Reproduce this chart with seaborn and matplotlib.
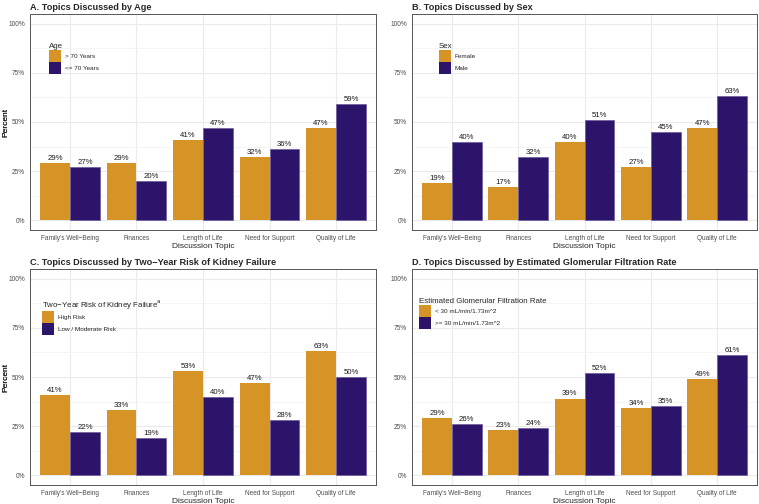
import matplotlib
matplotlib.use("Agg")
import matplotlib.pyplot as plt
import seaborn as sns
import pandas as pd
from matplotlib.ticker import FixedLocator

sns.set_style("white")
plt.rcParams['font.family'] = ['Liberation Sans', 'DejaVu Sans']

topics = ["Family's Well\u2212Being", "Finances", "Length of Life", "Need for Support", "Quality of Life"]

age_groups = ["> 70 Years", "<= 70 Years"]
age_over70 = [29, 29, 41, 32, 47]
age_under70 = [27, 20, 47, 36, 59]

sex_groups = ["Female", "Male"]
sex_female = [19, 17, 40, 27, 47]
sex_male = [40, 32, 51, 45, 63]

risk_groups = ["High Risk", "Low / Moderate Risk"]
risk_high = [41, 33, 53, 47, 63]
risk_low = [22, 19, 40, 28, 50]

egfr_groups = ["< 30 mL/min/1.73m^2", ">= 30 mL/min/1.73m^2"]
egfr_low = [29, 23, 39, 34, 49]
egfr_high = [26, 24, 52, 35, 61]

ORANGE = "#D69426"
PURPLE = "#2D146B"

W, H = 759, 504
fig = plt.figure(figsize=(W / 100, H / 100), dpi=100)

panels = [
    ("A. Topics Discussed by Age", "Age", age_groups, age_over70, age_under70, (30, 376, 14, 230), 19),
    ("B. Topics Discussed by Sex", "Sex", sex_groups, sex_female, sex_male, (412, 757, 14, 230), 27),
    ("C. Topics Discussed by Two\u2212Year Risk of Kidney Failure",
     "Two\u2212Year Risk of Kidney Failure$^{\\mathrm{a}}$", risk_groups, risk_high, risk_low,
     (30, 376, 269, 485), 12),
    ("D. Topics Discussed by Estimated Glomerular Filtration Rate", "Estimated Glomerular Filtration Rate",
     egfr_groups, egfr_low, egfr_high, (412, 757, 269, 485), 7),
]

for title, ltitle, groups, v1, v2, (l, r, t, b), loff in panels:
    ax = fig.add_axes([l / W, 1 - b / H, (r - l) / W, (b - t) / H])
    df = pd.DataFrame({
        "topic": topics * 2,
        "group": [groups[0]] * 5 + [groups[1]] * 5,
        "pct": list(v1) + list(v2),
    })
    sns.barplot(data=df, x="topic", y="pct", hue="group", order=topics, hue_order=groups,
                palette=[ORANGE, PURPLE], width=0.9, gap=0, saturation=1, ax=ax,
                edgecolor="none", linewidth=0, errorbar=None)
    for cont, vals in zip(ax.containers, [v1, v2]):
        ax.bar_label(cont, labels=[f"{v}%" for v in vals], padding=0.8, fontsize=5.6, color="#1a1a1a")
    for p in ax.containers[1]:
        p.set_edgecolor("#6B5A9E")
        p.set_linewidth(0.5)
    ax.set_xlim(-0.6, 4.6)
    ax.set_ylim(-5, 105)
    ax.set_yticks([0, 25, 50, 75, 100])
    ax.set_yticklabels(["0%", "25%", "50%", "75%", "100%"])
    ax.yaxis.set_minor_locator(FixedLocator([12.5, 37.5, 62.5, 87.5]))
    ax.grid(True, which="major", color="#EBEBEB", linewidth=0.8)
    ax.grid(True, which="minor", axis="y", color="#F2F2F2", linewidth=0.5)
    ax.set_axisbelow(True)
    ax.tick_params(axis="both", which="major", length=2, width=0.5, color="#333333",
                   labelsize=4.7, labelcolor="#4D4D4D", pad=1.5)
    ax.tick_params(axis="y", which="minor", length=0)
    for s in ax.spines.values():
        s.set_color("#555555")
        s.set_linewidth(0.7)
    ax.set_xlabel("Discussion Topic", fontsize=6.0, labelpad=0.5, fontweight="normal")
    ax.set_ylabel("Percent", fontsize=6.0, fontweight="normal", color="#1a1a1a")
    ax.yaxis.set_label_coords(-(l - 9.5) / (r - l), 0.5)
    ax.set_title(title, loc="left", fontsize=6.6, fontweight="bold", pad=3)
    # legend
    lx = loff / (r - l)
    ly = 1 - 29 / (b - t)
    leg = ax.legend(title=ltitle, loc="upper left", bbox_to_anchor=(lx, ly), frameon=False,
                    fontsize=4.6, title_fontsize=5.7, handlelength=1.9, handleheight=2.5,
                    labelspacing=0.0, handletextpad=0.6, borderpad=0, borderaxespad=0,
                    alignment="left")
    for h in leg.legend_handles:
        h.set_linewidth(0)

fig.savefig("out.png", dpi=100)
